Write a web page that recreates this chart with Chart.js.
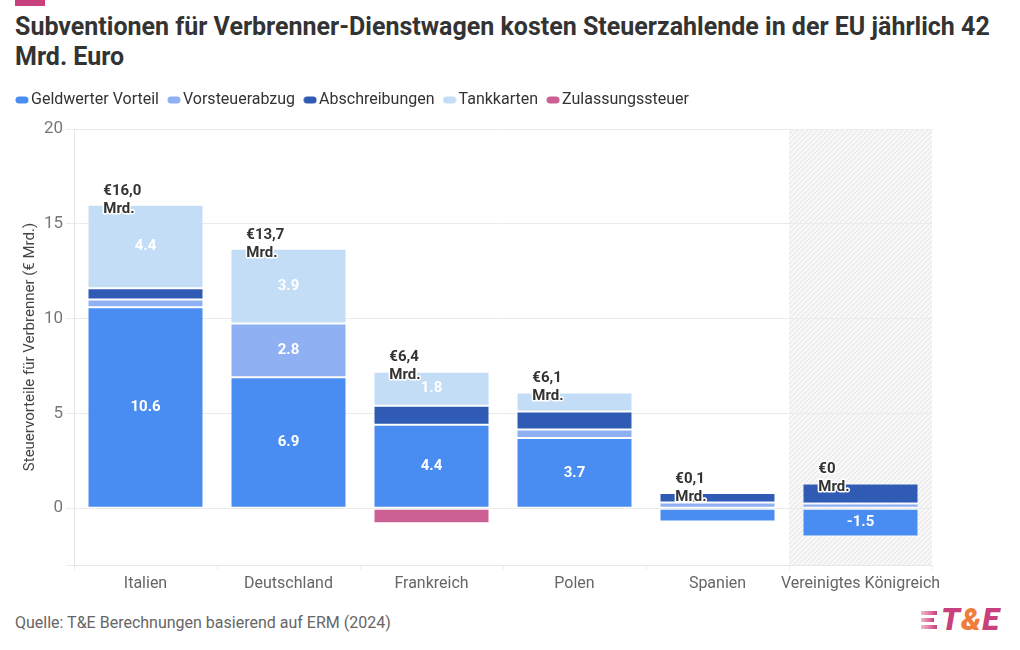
<!DOCTYPE html>
<html lang="de">
<head>
<meta charset="utf-8">
<script src="https://cdn.jsdelivr.net/npm/chart.js@4"></script>
<style>
  body { margin: 0; width: 1020px; height: 650px; background: #fff; font-family: Roboto, sans-serif; position: relative; overflow: hidden; }
  .accent { position: absolute; left: 15px; top: 0; width: 30px; height: 6px; background: #c8407c; }
  h1 { position: absolute; left: 15px; top: 12px; margin: 0; width: 990px; font-size: 25px; line-height: 30px; font-weight: 700; color: #333; }
  .chart-box { position: absolute; left: 0; top: 78px; width: 1000px; height: 522px; }
  .source { position: absolute; left: 15px; top: 613px; font-size: 16px; color: #666; }
  .logo { position: absolute; left: 921px; top: 604px; display: flex; align-items: center; gap: 4px; }
  .logo .bars { display: flex; flex-direction: column; gap: 3px; }
  .logo .bars span { display: block; height: 4px; background: linear-gradient(90deg, #f3b7cf, #c8407c); }
  .logo .word { font-size: 31px; font-weight: 900; font-style: italic; color: #c8407c; letter-spacing: 1px; line-height: 32px; }
  .logo .amp { color: #f07c3c; }
</style>
</head>
<body>
<div class="accent"></div>
<h1>Subventionen für Verbrenner-Dienstwagen kosten Steuerzahlende in der EU jährlich 42 Mrd. Euro</h1>
<div class="chart-box"><canvas id="chart"></canvas></div>
<div class="source">Quelle: T&amp;E Berechnungen basierend auf ERM (2024)</div>
<div class="logo">
  <div class="bars"><span style="width:16px"></span><span style="width:13px"></span><span style="width:16px"></span></div>
  <div class="word">T<span class="amp">&amp;</span>E</div>
</div>

<script>
// --- data (€ Mrd.) ---
const countries = ['Italien', 'Deutschland', 'Frankreich', 'Polen', 'Spanien', 'Vereinigtes Königreich']
const geldwerterVorteil = [10.6, 6.9, 4.4, 3.7, -0.7, -1.5]
const vorsteuerabzug = [0.4, 2.84, null, 0.45, 0.3, 0.25]
const abschreibungen = [0.6, null, 1.0, 0.95, 0.5, 1.05]
const tankkarten = [4.4, 3.94, 1.8, 1.0, null, null]
const zulassungssteuer = [null, null, -0.8, null, null, null]
const totalLabels = ['€16,0', '€13,7', '€6,4', '€6,1', '€0,1', '€0']
const yTicks = [0, 5, 10, 15, 20]

const colors = {
  geld: '#4a8df2',
  vorsteuer: '#8fb0f3',
  abschreibung: '#2f5bb5',
  tank: '#c2ddf5',
  zulassung: '#cc6092'
}

function pill(color) {
  const c = document.createElement('canvas')
  c.width = 14
  c.height = 8
  const ctx = c.getContext('2d')
  ctx.fillStyle = color
  ctx.beginPath()
  ctx.roundRect(0.5, 0.5, 13, 7, 3.5)
  ctx.fill()
  return c
}

function hatchPattern(ctx) {
  const p = document.createElement('canvas')
  p.width = 5
  p.height = 5
  const pc = p.getContext('2d')
  pc.fillStyle = '#f7f7f7'
  pc.fillRect(0, 0, 5, 5)
  pc.strokeStyle = '#e4e4e4'
  pc.lineWidth = 1
  pc.beginPath()
  pc.moveTo(0, 5); pc.lineTo(5, 0)
  pc.moveTo(-1, 1); pc.lineTo(1, -1)
  pc.moveTo(4, 6); pc.lineTo(6, 4)
  pc.stroke()
  return ctx.createPattern(p, 'repeat')
}

// hatched background behind the last category
const hatchPlugin = {
  id: 'hatch',
  beforeDraw(chart) {
    const { ctx, chartArea, scales } = chart
    const step = (chartArea.right - chartArea.left) / countries.length
    const x0 = scales.x.getPixelForValue(countries.length - 1) - step / 2
    ctx.save()
    ctx.fillStyle = hatchPattern(ctx)
    ctx.fillRect(x0, chartArea.top, chartArea.right - x0, chartArea.bottom - chartArea.top)
    ctx.restore()
  }
}

// value labels inside segments + totals above stacks
const labelPlugin = {
  id: 'labels',
  afterDatasetsDraw(chart) {
    const { ctx } = chart
    ctx.save()
    ctx.textAlign = 'center'
    ctx.textBaseline = 'middle'
    ctx.font = '700 15px Roboto'
    ctx.fillStyle = '#fff'
    chart.data.datasets.forEach((ds, di) => {
      chart.getDatasetMeta(di).data.forEach((el, i) => {
        const v = ds.data[i]
        if (v == null || Math.abs(v) < 1.5) return
        ctx.fillText(v.toFixed(1), el.x, (el.y + el.base) / 2)
      })
    })

    ctx.textAlign = 'left'
    ctx.font = '700 15px Roboto'
    ctx.lineJoin = 'round'
    countries.forEach((c, i) => {
      let top = chart.scales.y.getPixelForValue(0)
      let bx = null, bw = 0
      chart.data.datasets.forEach((ds, di) => {
        const el = chart.getDatasetMeta(di).data[i]
        if (!el) return
        bx = el.x
        bw = el.width
        if (ds.data[i] > 0) top = Math.min(top, el.y)
      })
      const x = bx - bw / 2 + 15
      ;[[totalLabels[i], top - 14], ['Mrd.', top + 4]].forEach(([t, y]) => {
        ctx.strokeStyle = '#fff'
        ctx.lineWidth = 3
        ctx.strokeText(t, x, y)
        ctx.fillStyle = '#333'
        ctx.fillText(t, x, y)
      })
    })
    ctx.restore()
  }
}

const legendHeightPlugin = {
  id: 'legendHeight',
  beforeInit(chart) {
    const fit = chart.legend.fit
    chart.legend.fit = function () {
      fit.call(this)
      this.height = 51
    }
  }
}

function makeDataset(label, data, color) {
  return {
    label,
    data,
    backgroundColor: color,
    borderColor: '#fff',
    borderWidth: { top: 1, bottom: 1, left: 0, right: 0 },
    borderSkipped: false,
    categoryPercentage: 1,
    barPercentage: 0.8,
    legendColor: color
  }
}

new Chart(document.getElementById('chart'), {
  type: 'bar',
  data: {
    labels: countries,
    datasets: [
      makeDataset('Geldwerter Vorteil', geldwerterVorteil, colors.geld),
      makeDataset('Vorsteuerabzug', vorsteuerabzug, colors.vorsteuer),
      makeDataset('Abschreibungen', abschreibungen, colors.abschreibung),
      makeDataset('Tankkarten', tankkarten, colors.tank),
      makeDataset('Zulassungssteuer', zulassungssteuer, colors.zulassung)
    ]
  },
  options: {
    responsive: true,
    maintainAspectRatio: false,
    animation: false,
    layout: { padding: { left: 7, right: 68, top: 0, bottom: 0 } },
    plugins: {
      tooltip: { enabled: false },
      legend: {
        position: 'top',
        align: 'start',
        labels: {
          usePointStyle: true,
          pointStyleWidth: 2,
          padding: 14,
          color: '#333',
          font: { family: 'Roboto', size: 16 },
          generateLabels(chart) {
            return chart.data.datasets.map((ds, i) => ({
              text: ds.label,
              pointStyle: pill(ds.legendColor),
              fillStyle: ds.legendColor,
              strokeStyle: ds.legendColor,
              lineWidth: 0,
              hidden: false,
              datasetIndex: i,
              fontColor: '#333'
            }))
          }
        }
      }
    },
    scales: {
      x: {
        stacked: true,
        grid: { drawOnChartArea: false, color: '#eeeeee', tickLength: 5 },
        border: { color: '#e6e6e6' },
        ticks: { color: '#666', font: { family: 'Roboto', size: 16 }, padding: 4, maxRotation: 0, autoSkip: false },
        afterFit(scale) { scale.height = 35 }
      },
      y: {
        stacked: true,
        min: -3,
        max: 20,
        afterBuildTicks(scale) {
          scale.ticks = [{ value: -3 }].concat(yTicks.map(v => ({ value: v })))
        },
        grid: { color: '#ebebeb', tickLength: 8 },
        border: { color: '#e6e6e6' },
        ticks: {
          color: '#777',
          font: { family: 'Roboto', size: 17 },
          padding: 3,
          callback: v => (yTicks.includes(v) ? v : '')
        },
        title: {
          display: true,
          text: 'Steuervorteile für Verbrenner (€ Mrd.)',
          color: '#444',
          font: { family: 'Roboto', size: 15 },
          padding: { top: 14, bottom: 0 }
        },
        afterFit(scale) { scale.width = 67 }
      }
    }
  },
  plugins: [hatchPlugin, labelPlugin, legendHeightPlugin]
})
</script>
</body>
</html>
